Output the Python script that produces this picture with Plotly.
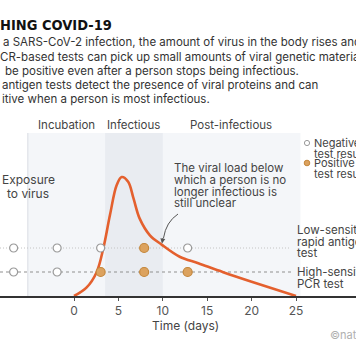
import plotly.graph_objects as go

# ---------------- data ----------------
curve_days = [0, 1.4, 2.55, 3.3, 4.05, 4.8, 5.37, 6.1, 6.7, 7.4, 8.55, 9.9, 11.9, 14, 16.8, 20, 25]
viral_load = [0, 0.7, 2.0, 4.0, 6.8, 9.3, 10.0, 9.6, 8.2, 6.5, 5.1, 4.3, 3.3, 2.75, 2.0, 1.2, 0]

test_days = [-6.8, -1.9, 3.0, 7.9, 12.8]
antigen_results = ["neg", "neg", "neg", "pos", "neg"]
pcr_results = ["neg", "neg", "pos", "pos", "pos"]

x_ticks = [0, 5, 10, 15, 20, 25]
phase_labels = ["Incubation", "Infectious", "Post-infectious"]
exposure_day = -5.2
infectious_start, infectious_end = 3.5, 10.0
observation_end = 25.5

body_lines = [
    "a SARS-CoV-2 infection, the amount of virus in the body rises and",
    "CR-based tests can pick up small amounts of viral genetic material",
    "be positive even after a person stops being infectious.",
    "antigen tests detect the presence of viral proteins and can",
    "itive when a person is most infectious.",
]
note_lines = ["The viral load below", "which a person is no", "longer infectious is", "still unclear"]

# ---------------- geometry helpers ----------------
W, H = 356, 364
X_ZERO, PX_PER_DAY = 74.0, 8.88
Y_BASE, PX_PER_UNIT = 296.0, 11.9
TOP = 133.0
x_range = [(0 - X_ZERO) / PX_PER_DAY, (W - X_ZERO) / PX_PER_DAY]
y_range = [0, (Y_BASE - TOP) / PX_PER_UNIT]

def px(X):
    return X / W

def py(Y):
    return (Y_BASE - Y) / (Y_BASE - TOP)

def dx(X):
    return (X - X_ZERO) / PX_PER_DAY

def dy(Y):
    return (Y_BASE - Y) / PX_PER_UNIT

ANTIGEN_LEVEL = dy(248)
PCR_LEVEL = dy(272)

BODY_FONT = "Inter, Roboto, sans-serif"
ORANGE = "#e4602e"
POS_FILL, POS_LINE = "#dca25e", "#c4873c"
NEG_LINE = "#9a9a9a"

fig = go.Figure()

# viral load curve
fig.add_trace(go.Scatter(
    x=curve_days, y=viral_load, mode="lines",
    line=dict(color=ORANGE, width=2.6, shape="spline", smoothing=1.0),
    hoverinfo="skip", showlegend=False, cliponaxis=False))

# test result dots
def add_row(results, level):
    for res in ("neg", "pos"):
        xs = [d for d, r in zip(test_days, results) if r == res]
        if not xs:
            continue
        if res == "neg":
            marker = dict(size=8, color="white", line=dict(color=NEG_LINE, width=1.2))
        else:
            marker = dict(size=9, color=POS_FILL, line=dict(color=POS_LINE, width=1.2))
        fig.add_trace(go.Scatter(x=xs, y=[level] * len(xs), mode="markers",
                                 marker=marker, hoverinfo="skip", showlegend=False,
                                 cliponaxis=False))

add_row(antigen_results, ANTIGEN_LEVEL)
add_row(pcr_results, PCR_LEVEL)

shapes = []
# background shading
shapes.append(dict(type="rect", xref="x", yref="paper", x0=exposure_day, x1=observation_end,
                   y0=0, y1=1, fillcolor="#f4f6f9", line=dict(width=0), layer="below"))
shapes.append(dict(type="rect", xref="x", yref="paper", x0=infectious_start, x1=infectious_end,
                   y0=0, y1=1, fillcolor="#e9ecf1", line=dict(width=0), layer="below"))
shapes.append(dict(type="line", xref="x", yref="paper", x0=exposure_day, x1=exposure_day,
                   y0=0, y1=1, line=dict(color="#d9dde3", width=1), layer="below"))
# test row guide lines
shapes.append(dict(type="line", xref="x", yref="y", x0=x_range[0], x1=dx(290),
                   y0=ANTIGEN_LEVEL, y1=ANTIGEN_LEVEL,
                   line=dict(color="#c4c4c4", width=1, dash="1px,2px"), layer="below"))
shapes.append(dict(type="line", xref="x", yref="y", x0=x_range[0], x1=dx(292),
                   y0=PCR_LEVEL, y1=PCR_LEVEL,
                   line=dict(color="#8f8f8f", width=1.2, dash="3px,3px"), layer="below"))
# curved arrow stem for the note
shapes.append(dict(type="path", xref="x", yref="y",
                   path=f"M {dx(178)} {dy(214)} Q {dx(166)} {dy(222)} {dx(163.5)} {dy(238)}",
                   line=dict(color="#555555", width=1)))
# legend markers
shapes.append(dict(type="circle", xref="x", yref="y", xsizemode="pixel", ysizemode="pixel",
                   xanchor=dx(307), yanchor=dy(143), x0=-2.6, x1=2.6, y0=-2.6, y1=2.6,
                   fillcolor="white", line=dict(color=NEG_LINE, width=1)))
shapes.append(dict(type="circle", xref="x", yref="y", xsizemode="pixel", ysizemode="pixel",
                   xanchor=dx(307), yanchor=dy(163), x0=-2.8, x1=2.8, y0=-2.8, y1=2.8,
                   fillcolor=POS_FILL, line=dict(color=POS_LINE, width=1)))

ann = []
def text(t, X, Y, size=11.5, color="#333333", anchor="left", family=BODY_FONT, bold=False):
    ann.append(dict(text=f"<b>{t}</b>" if bold else t, x=px(X), y=py(Y), xref="paper", yref="paper",
                    xanchor=anchor, yanchor="middle", showarrow=False,
                    font=dict(size=size, color=color, family=family)))

# title and intro
text("HING COVID-19", -2, 25, size=14.5, color="#111111",
     family="DejaVu Sans Condensed, Roboto, sans-serif", bold=True)
for line, Y, X in zip(body_lines, [42, 57, 71, 85, 99], [1, -2, 3, 0, 0]):
    text(line, X, Y, size=11.5, color="#333333")

# phase labels
for lab, X in zip(phase_labels, [66, 133, 231]):
    text(lab, X, 125, size=11.5, color="#444444", anchor="center")

# exposure label
text("Exposure", 28, 179, size=12, color="#444444", anchor="center")
text("to virus", 28, 193, size=12, color="#444444", anchor="center")

# note
for line, Y in zip(note_lines, [168, 180, 192, 203]):
    text(line, 172, Y, size=11.5, color="#444444")

# arrow head
ann.append(dict(x=dx(162), y=dy(243.5), xref="x", yref="y", ax=1.2, ay=-7, text="",
                showarrow=True, arrowhead=2, arrowsize=1, arrowwidth=1, arrowcolor="#555555",
                standoff=0))

# legend
text("Negative", 312, 143, size=11, color="#444444")
text("test result", 312, 154, size=11, color="#444444")
text("Positive", 312, 163, size=11, color="#444444")
text("test result", 312, 174, size=11, color="#444444")

# row labels
text("Low-sensitivity", 295, 230, size=11.5, color="#444444")
text("rapid antigen", 295, 242, size=11.5, color="#444444")
text("test", 295, 253, size=11.5, color="#444444")
text("High-sensitivity", 295, 272, size=11.5, color="#444444")
text("PCR test", 295, 284, size=11.5, color="#444444")

# axis title and credit
text("Time (days)", X_ZERO + 12.5 * PX_PER_DAY, 325, size=12, color="#444444", anchor="center")
text("©nature", 328, 335, size=11, color="#b0b0b0")

fig.update_layout(
    width=W, height=H, margin=dict(l=0, r=0, t=TOP, b=H - Y_BASE, pad=0),
    paper_bgcolor="white", plot_bgcolor="white",
    xaxis=dict(range=x_range, tickvals=x_ticks, ticktext=[str(t) for t in x_ticks],
               showgrid=False, zeroline=False, showline=True, linecolor="#333333", linewidth=1.5,
               ticks="outside", ticklen=3, tickcolor="#555555", tickwidth=1,
               tickfont=dict(size=12, color="#555555", family=BODY_FONT), fixedrange=True),
    yaxis=dict(range=y_range, visible=False, fixedrange=True),
    shapes=shapes, annotations=ann, showlegend=False,
)

fig.write_html("out.html", post_script="document.body.style.margin='0';",
               config={"displayModeBar": False})
